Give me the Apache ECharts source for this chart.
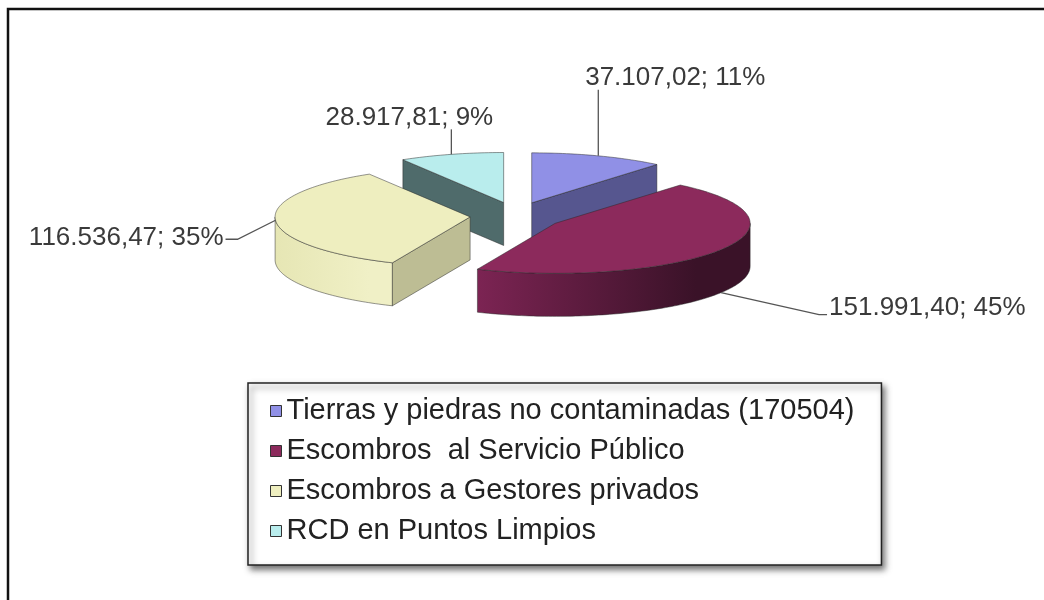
<!DOCTYPE html>
<html>
<head>
<meta charset="utf-8">
<script src="https://cdn.jsdelivr.net/npm/echarts@6/dist/echarts.min.js"></script>
<style>
  html, body { margin: 0; padding: 0; background: #fff; }
  #chart { width: 1044px; height: 600px; }
</style>
</head>
<body>
<div id="chart"></div>
<script>
  // datos
  var categories = ['Tierras y piedras no contaminadas (170504)', 'Escombros  al Servicio Público', 'Escombros a Gestores privados', 'RCD en Puntos Limpios'];
  var values = [37107.02, 151991.40, 116536.47, 28917.81];

  // colores de cada porción: cara superior, pared curva (izq -> der), cara plana
  var topColors = ['#9090e6', '#8c2a5c', '#eeeebf', '#b9eded'];
  var wallColors = [['#5a5a96', '#4e4e88'], ['#7c2453', '#3a1228'], ['#e6e6b4', '#f0f0c6'], ['#b0e0e0', '#9cc8c8']];
  var flatColors = ['#56568f', '#5e1a3c', '#bdbd94', '#4f6b6b'];

  // posición de etiquetas relativa al punto de anclaje
  var labelLayout = [
    { depth: 0, line: [[0, -66]], text: [77, -78], align: 'center' },
    { depth: 1, line: [[98, 22], [106, 22]], text: [108, 15], align: 'left' },
    { depth: 0, line: [[-38, 19], [-50, 19]], text: [-52, 18], align: 'right' },
    { depth: 0, line: [[0, -25]], text: [-42, -37], align: 'center' }
  ];

  // geometría del pastel
  var CX = 516, CY = 216, RX = 195, RY = 50, D = 43, EX = 46, EY = 14;

  var total = values.reduce(function (a, b) { return a + b; }, 0);

  function fmtNum(v) {
    var parts = v.toFixed(2).split('.');
    var ent = parts[0].replace(/\B(?=(\d{3})+(?!\d))/g, '.');
    return ent + ',' + parts[1];
  }

  function renderSlice(params, api) {
    var i = params.seriesIndex;
    var before = 0;
    for (var k = 0; k < i; k++) before += values[k];
    var s = before / total * Math.PI * 2;
    var e = (before + api.value(0)) / total * Math.PI * 2;
    var m = (s + e) / 2;
    var ax = CX + EX * Math.sin(m);
    var ay = CY - EY * Math.cos(m);
    var rank = Math.round(ay) * 10;

    function rim(a, dy) {
      return [ax + RX * Math.sin(a), ay - RY * Math.cos(a) + (dy || 0)];
    }
    function arc(a1, a2, dy) {
      var n = Math.max(2, Math.ceil((a2 - a1) / 0.02));
      var pts = [];
      for (var j = 0; j <= n; j++) pts.push(rim(a1 + (a2 - a1) * j / n, dy));
      return pts;
    }
    var edge = { stroke: 'rgba(40,40,40,0.7)', lineWidth: 0.7 };
    var children = [];

    // pared curva frontal
    var w1 = Math.max(s, Math.PI / 2), w2 = Math.min(e, Math.PI * 1.5);
    if (w2 > w1) {
      var pts = arc(w1, w2, 0).concat(arc(w1, w2, D).reverse());
      children.push({
        type: 'polygon', z2: rank + 1,
        shape: { points: pts },
        style: {
          fill: new echarts.graphic.LinearGradient(0, 0, 1, 0, [
            { offset: 0, color: wallColors[i][0] },
            { offset: 0.8, color: wallColors[i][1] },
            { offset: 1, color: wallColors[i][1] }
          ]),
          stroke: edge.stroke, lineWidth: edge.lineWidth
        }
      });
    }
    // caras planas visibles
    [[s, Math.sin(s) < -1e-6], [e, Math.sin(e) > 1e-6]].forEach(function (w) {
      if (!w[1]) return;
      var p = rim(w[0], 0), q = rim(w[0], D);
      children.push({
        type: 'polygon', z2: rank + 2,
        shape: { points: [[ax, ay], p, q, [ax, ay + D]] },
        style: { fill: flatColors[i], stroke: edge.stroke, lineWidth: edge.lineWidth }
      });
    });
    // cara superior
    children.push({
      type: 'polygon', z2: rank + 3,
      shape: { points: [[ax, ay]].concat(arc(s, e, 0)) },
      style: { fill: topColors[i], stroke: edge.stroke, lineWidth: edge.lineWidth }
    });

    // etiqueta
    var lay = labelLayout[i];
    var anc = rim(m, lay.depth ? D : 0);
    var linePts = [anc].concat(lay.line.map(function (p) { return [anc[0] + p[0], anc[1] + p[1]]; }));
    children.push({
      type: 'polyline', z2: 90000,
      shape: { points: linePts },
      style: { stroke: '#555', lineWidth: 1.3, fill: null }
    });
    var pct = Math.round(api.value(0) / total * 100);
    children.push({
      type: 'text', z2: 90001,
      x: anc[0] + lay.text[0], y: anc[1] + lay.text[1],
      style: {
        text: fmtNum(api.value(0)) + '; ' + pct + '%',
        fill: '#3a3a3a',
        font: '26px "Liberation Sans", Arial, sans-serif',
        align: lay.align,
        verticalAlign: 'middle'
      }
    });
    return { type: 'group', children: children };
  }

  var myChart = echarts.init(document.getElementById('chart'));
  var series = categories.map(function (name, i) {
    return {
      name: name,
      type: 'custom',
      coordinateSystem: 'none',
      renderItem: renderSlice,
      itemStyle: { color: topColors[i] },
      data: [[values[i]]]
    };
  });

  var option = {
    animation: false,
    backgroundColor: '#fff',
    graphic: [{
      type: 'rect', z: 100,
      shape: { x: 8, y: 9, width: 1200, height: 800 },
      style: { fill: null, stroke: '#111', lineWidth: 2.5 }
    }],
    legend: {
      orient: 'vertical',
      left: 248,
      top: 383,
      padding: [13, 27, 19, 22],
      itemWidth: 11,
      itemHeight: 11,
      itemGap: 10,
      icon: 'rect',
      selectedMode: false,
      backgroundColor: '#fff',
      borderColor: '#222',
      borderWidth: 1.5,
      shadowColor: 'rgba(0,0,0,0.55)',
      shadowBlur: 6,
      shadowOffsetX: 3,
      shadowOffsetY: 4,
      itemStyle: { borderColor: '#333', borderWidth: 1 },
      textStyle: {
        fontFamily: '"Liberation Sans", Arial, sans-serif',
        fontSize: 29,
        color: '#222',
        lineHeight: 30
      },
      data: categories
    },
    series: series
  };
  myChart.setOption(option, true);
</script>
</body>
</html>
